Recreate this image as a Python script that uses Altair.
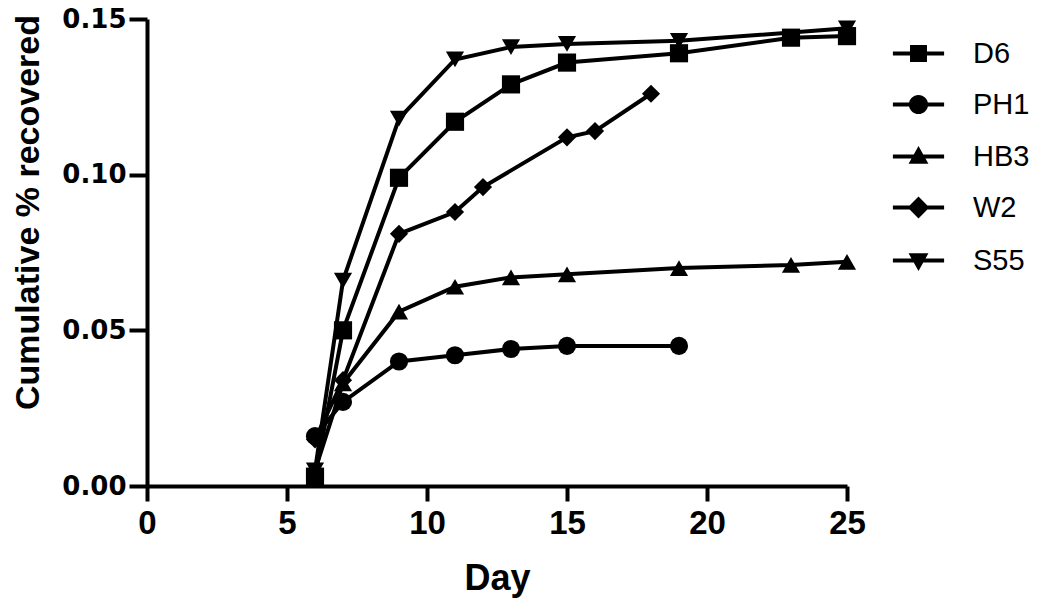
import altair as alt
import pandas as pd

series_names = ["D6", "PH1", "HB3", "W2", "S55"]

d6_days = [6, 7, 9, 11, 13, 15, 19, 23, 25]
d6_vals = [0.003, 0.050, 0.099, 0.117, 0.129, 0.136, 0.139, 0.144, 0.1445]

ph1_days = [6, 7, 9, 11, 13, 15, 19]
ph1_vals = [0.016, 0.027, 0.040, 0.042, 0.044, 0.045, 0.045]

hb3_days = [6, 7, 9, 11, 13, 15, 19, 23, 25]
hb3_vals = [0.005, 0.033, 0.056, 0.064, 0.067, 0.068, 0.070, 0.071, 0.072]

w2_days = [6, 7, 9, 11, 12, 15, 16, 18]
w2_vals = [0.015, 0.034, 0.081, 0.088, 0.096, 0.112, 0.114, 0.126]

s55_days = [6, 7, 9, 11, 13, 15, 19, 25]
s55_vals = [0.005, 0.066, 0.118, 0.137, 0.141, 0.142, 0.143, 0.147]

x_ticks = [0, 5, 10, 15, 20, 25]
y_ticks = [0.00, 0.05, 0.10, 0.15]

rows = []
for name, days, vals in [
    ("D6", d6_days, d6_vals),
    ("PH1", ph1_days, ph1_vals),
    ("HB3", hb3_days, hb3_vals),
    ("W2", w2_days, w2_vals),
    ("S55", s55_days, s55_vals),
]:
    for d, v in zip(days, vals):
        rows.append({"series": name, "day": d, "value": v})
df = pd.DataFrame(rows)

plot_shapes = ["square", "circle", "triangle-up", "diamond", "triangle-down"]
# legend glyphs: a filled bar (the line) plus the marker, all wound clockwise
line_seg = "M-1.6,-0.125H1.6V0.125H-1.6Z"
legend_shapes = [
    line_seg + "M-0.53,-0.53H0.53V0.53H-0.53Z",
    line_seg + "M-0.6,0A0.6,0.6 0 0,1 0.6,0A0.6,0.6 0 0,1 -0.6,0Z",
    line_seg + "M0,-0.65L0.62,0.45L-0.62,0.45Z",
    line_seg + "M0,-0.68L0.68,0L0,0.68L-0.68,0Z",
    line_seg + "M0,0.65L-0.62,-0.45L0.62,-0.45Z",
]

x_enc = alt.X(
    "day:Q",
    scale=alt.Scale(domain=[0, 25], nice=False, zero=False),
    axis=alt.Axis(
        values=x_ticks,
        title="Day",
        titleFont="Liberation Sans",
        titleFontSize=36,
        titleFontWeight="bold",
        titleColor="black",
        titleBaseline="alphabetic",
        titleY=103,
        labelFont="Liberation Sans",
        labelFontSize=33,
        labelFontWeight="bold",
        labelColor="black",
        labelPadding=6,
        tickSize=15,
        tickWidth=4,
        tickColor="black",
        domainWidth=4,
        domainColor="black",
        grid=False,
        labelFlush=False,
    ),
)
y_enc = alt.Y(
    "value:Q",
    scale=alt.Scale(domain=[0, 0.15], nice=False),
    axis=alt.Axis(
        values=y_ticks,
        format=".2f",
        title="Cumulative % recovered",
        titleFont="Liberation Sans",
        titleFontSize=34,
        titleFontWeight="bold",
        titleColor="black",
        titleBaseline="alphabetic",
        titleX=-109,
        titleY=193,
        labelFont="DejaVu Sans",
        labelFontSize=26,
        labelFontWeight="bold",
        labelColor="black",
        labelPadding=3,
        tickSize=18,
        tickWidth=4,
        tickColor="black",
        domainWidth=4,
        domainColor="black",
        grid=False,
        labelFlush=False,
    ),
)

base = alt.Chart(df)

lines = base.mark_line(color="black", strokeWidth=4, opacity=1).encode(
    x=x_enc, y=y_enc, detail="series:N", order="day:Q"
)

points = base.mark_point(filled=True, color="black", size=330, opacity=1).encode(
    x="day:Q",
    y="value:Q",
    shape=alt.Shape(
        "series:N",
        scale=alt.Scale(domain=series_names, range=plot_shapes),
        legend=None,
    ),
)

legend_layer = (
    base.transform_filter("false")
    .mark_point(filled=True, color="black", size=1024, opacity=1)
    .encode(
        x="day:Q",
        y="value:Q",
        shape=alt.Shape(
            "series:N",
            scale=alt.Scale(domain=series_names, range=legend_shapes),
            legend=alt.Legend(
                title=None,
                orient="none",
                legendX=754,
                legendY=17,
                symbolSize=1024,
                symbolFillColor="black",
                symbolStrokeWidth=3,
                symbolOpacity=1,
                labelFont="Liberation Sans",
                labelFontSize=29,
                labelColor="black",
                labelOffset=37,
                rowPadding=18,
                labelLimit=200,
            ),
        ),
    )
)

chart = (
    alt.layer(lines, points, legend_layer)
    .resolve_scale(shape="independent")
    .properties(
        width=700,
        height=467,
        autosize=alt.AutoSizeParams(type="none"),
        padding={"left": 139, "top": 11, "right": 195, "bottom": 112},
        background="white",
    )
    .configure_view(stroke=None)
)

chart.save("out.html", embed_options={"renderer": "svg", "actions": False})
